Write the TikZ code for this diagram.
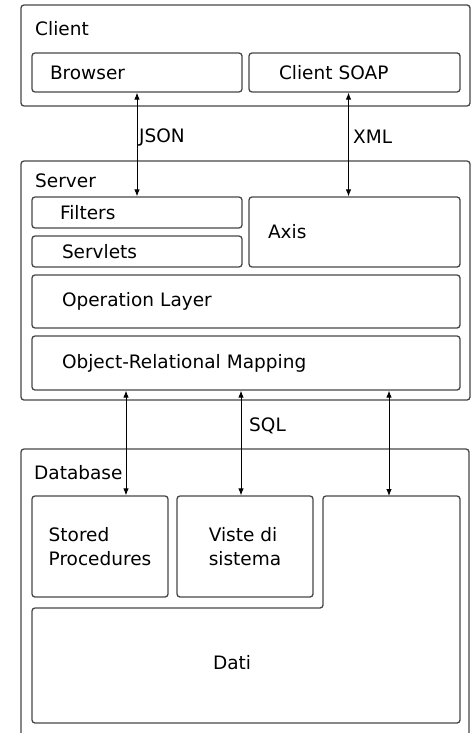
\documentclass[tikz,border=0pt]{standalone}
\usepackage{fontspec}
\setmainfont{DejaVu Sans}
\usetikzlibrary{arrows.meta}

\begin{document}
\begin{tikzpicture}[
    x=1pt, y=-1pt,
    font=\fontsize{18.5}{24}\selectfont,
    box/.style={rectangle, draw=black!72, line width=1.3pt, rounded corners=3pt, inner sep=0pt, align=left},
    frame/.style={draw=black!72, line width=1.3pt, rounded corners=3pt},
    title/.style={anchor=west, inner sep=0pt},
    tag/.style={anchor=west, inner sep=0pt},
    arrow/.style={{Latex[length=7pt,width=5.5pt]}-{Latex[length=7pt,width=5.5pt]}, line width=0.9pt}
]
\useasboundingbox (0,0) rectangle (471,733);

% Client
\node[box, minimum width=449pt, minimum height=101pt] (client) at (245.5,55.5) {};
\node[title] (clienttitle) at (35,29) {Client};
\node[box, minimum width=210pt, minimum height=39pt, inner xsep=18pt, text width=174pt] (browser) at (137,72.5) {Browser};
\node[box, minimum width=211pt, minimum height=39pt, inner xsep=30pt, text width=151pt] (soap) at (354.5,72.5) {Client SOAP};

% Server
\node[box, minimum width=449pt, minimum height=239pt] (server) at (245.5,280.5) {};
\node[title] (servertitle) at (35,181) {Server};
\node[box, minimum width=210pt, minimum height=31pt, inner xsep=28pt, text width=154pt] (filters) at (137,212.5) {Filters};
\node[box, minimum width=210pt, minimum height=31pt, inner xsep=30pt, text width=150pt] (servlets) at (137,251.5) {Servlets};
\node[box, minimum width=211pt, minimum height=70pt, inner xsep=19pt, text width=173pt] (axis) at (354.5,232) {Axis};
\node[box, minimum width=428pt, minimum height=53pt, inner xsep=30pt, text width=368pt] (oplayer) at (246,301.5) {Operation Layer};
\node[box, minimum width=428pt, minimum height=54pt, inner xsep=30pt, text width=368pt] (orm) at (246,363) {Object-Relational Mapping};

% Database
\draw[frame] (21,733) -- (21,449) -- (469,449) -- (469,733);
\node[title] (dbtitle) at (34,473) {Database};
\node[box, minimum width=136pt, minimum height=101pt] (stored) at (100,546.5) {Stored\\Procedures};
\node[box, minimum width=136pt, minimum height=101pt] (viste) at (245,546.5) {Viste di\\sistema};
\draw[frame] (32,608) -- (323,608) -- (323,496) -- (460,496) -- (460,723) -- (32,723) -- cycle;
\coordinate (datitop) at (389,496);
\node (dati) at (232,663) {Dati};

% Arrows - Client to Server
\draw[arrow] (browser) -- (filters);
\draw[arrow] ([xshift=-6pt]soap.south) -- ([xshift=-6pt]axis.north);
\node[tag] (json) at (139,137) {JSON};
\node[tag] (xml) at (353,137) {XML};

% Arrows - Server to Database
\coordinate (sqla) at ([xshift=26pt]stored.north);
\coordinate (sqlb) at ([xshift=-4pt]viste.north);
\draw[arrow] (sqla |- orm.south) -- (sqla);
\draw[arrow] (sqlb |- orm.south) -- (sqlb);
\draw[arrow] (datitop |- orm.south) -- (datitop);
\node[tag] (sql) at (249,426) {SQL};

\end{tikzpicture}
\end{document}
